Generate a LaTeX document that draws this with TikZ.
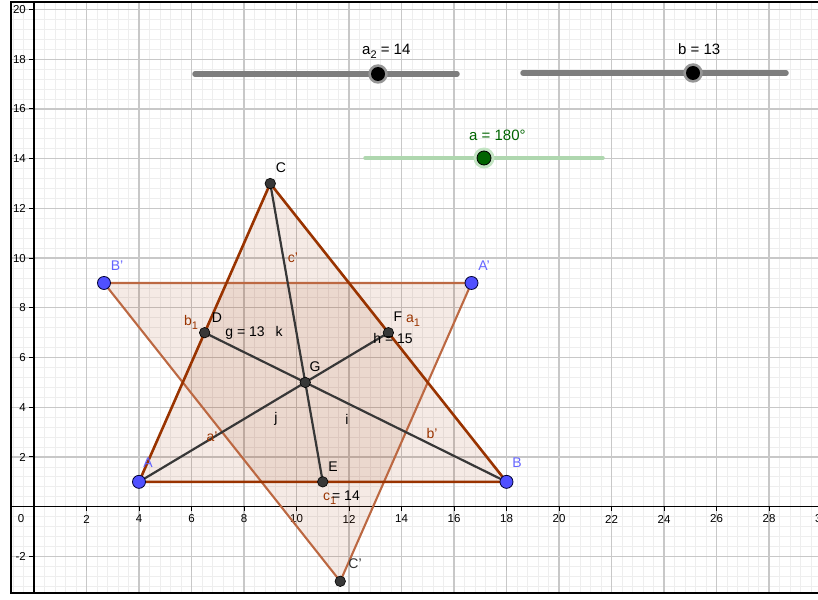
\documentclass[tikz,border=0pt]{standalone}
\usepackage{fontspec}
\setmainfont{Liberation Sans}
\definecolor{ggbrown}{RGB}{153,51,0}
\definecolor{ggbrownlt}{RGB}{188,104,66}
\definecolor{ggblue}{RGB}{80,80,255}
\definecolor{lblblue}{RGB}{100,100,255}
\definecolor{ptdark}{RGB}{55,55,55}
\definecolor{ggreen}{RGB}{0,100,0}
\definecolor{greenlt}{RGB}{175,215,175}
\definecolor{greenhalo}{RGB}{195,228,195}
\definecolor{majgrid}{RGB}{200,200,200}
\definecolor{mingrid}{RGB}{238,238,238}
\definecolor{slidergray}{RGB}{125,125,125}
\definecolor{halogray}{RGB}{150,150,150}
\newcommand\ggsub[1]{\raisebox{-4pt}{\fontsize{11}{12}\selectfont #1}}
\begin{document}
\begin{tikzpicture}[x=1pt,y=-1pt,
  lbl/.style={font=\fontsize{14}{16}\selectfont, inner sep=0pt, text=black},
  slbl/.style={font=\fontsize{15}{17}\selectfont, inner sep=0pt, text=black},
  axlbl/.style={font=\fontsize{11.5}{13}\selectfont, inner sep=0pt, text=black},
  minorline/.style={draw=mingrid, line width=0.8pt},
  majorline/.style={draw=majgrid, line width=1.3pt},
  tri/.style={draw=ggbrown, line width=2.6pt, line join=round},
  trirot/.style={draw=ggbrownlt, line width=2.1pt, line join=round},
  trifill/.style={fill=ggbrown, fill opacity=0.1},
  median/.style={draw=ptdark, line width=2.2pt},
  darkpt/.style={circle, fill=ptdark, draw=black, line width=0.6pt, minimum size=10.5pt, inner sep=0pt},
  bluept/.style={circle, fill=ggblue, draw=black!80!blue, line width=0.8pt, minimum size=13pt, inner sep=0pt},
  sliderline/.style={draw=slidergray, line width=5.5pt, line cap=round},
  knobhalo/.style={circle, fill=halogray, minimum size=19.5pt, inner sep=0pt},
  knob/.style={circle, fill=black, minimum size=14pt, inner sep=0pt},
]
\useasboundingbox (0,0) rectangle (818,599);
\clip (0,0) rectangle (818,599);

\begin{scope}[shift={(34pt,-506.7pt)}, x=26.25pt, y=24.86pt]
  \begin{scope}
    \clip (-0.876,-3.47) rectangle (30,20.3);
    % minor grid
    \foreach \i in {-2,...,75} \draw[minorline] ({\i*0.4},-3.6) -- ({\i*0.4},20.4);
    \foreach \j in {-9,...,51} \draw[minorline] (-1,{\j*0.4}) -- (30,{\j*0.4});
    % major grid
    \foreach \i in {2,4,...,30} \draw[majorline] (\i,-3.6) -- (\i,20.4);
    \foreach \j in {-2,2,4,...,20} \draw[majorline] (-1,\j) -- (30,\j);
    % axes
    \coordinate (xl) at (-0.9,0); \coordinate (xr) at (30,0);
    \coordinate (yb) at (0,-3.5); \coordinate (yt) at (0,20.4);
    \draw[line width=1.3pt] (xl) -- (xr);
    \draw[line width=1.3pt] (yb) -- (yt);
    \foreach \i in {2,4,...,30} {
      \draw[line width=1pt] (\i,0) -- ++(0,-4pt);
      \node[axlbl] at ([yshift=-12.3pt]\i,0) {\i};
    }
    \foreach \j in {-2,2,4,...,20} {
      \draw[line width=1pt] (0,\j) -- ++(-5pt,0);
      \node[axlbl, anchor=east] at ([xshift=-8pt]0,\j) {\j};
    }
    \node[axlbl] at ([xshift=-13pt,yshift=-12.3pt]0,0) {0};

    % geometry
    \coordinate (A) at (4,1);
    \coordinate (B) at (18,1);
    \coordinate (C) at (9,13);
    \coordinate (G) at (10.3333,5);
    \coordinate (A') at (16.6667,9);
    \coordinate (B') at (2.6667,9);
    \coordinate (C') at (11.6667,-3);
    \coordinate (D) at (6.5,7);
    \coordinate (E) at (11,1);
    \coordinate (F) at (13.5,7);

    \fill[trifill] (A) -- (B) -- (C) -- cycle;
    \fill[trifill] (A') -- (B') -- (C') -- cycle;
    \draw[trirot] (A') -- (B') -- (C') -- cycle;
    \draw[median] (A) -- (F);
    \draw[median] (B) -- (D);
    \draw[median] (C) -- (E);
    \draw[tri] (A) -- (B) -- (C) -- cycle;

    \node[darkpt] (pC) at (C) {};
    \node[darkpt] (pD) at (D) {};
    \node[darkpt] (pE) at (E) {};
    \node[darkpt] (pF) at (F) {};
    \node[darkpt] (pG) at (G) {};
    \node[darkpt] (pC') at (C') {};
    \node[bluept] (pA) at (A) {};
    \node[bluept] (pB) at (B) {};
    \node[bluept] (pA') at (A') {};
    \node[bluept] (pB') at (B') {};
  \end{scope}
\end{scope}

% frame
\coordinate (f1) at (11,593);
\coordinate (f2) at (11,1.8);
\coordinate (f3) at (818,1.8);
\coordinate (f4) at (818,593);
\draw[line width=2.4pt] (f3) -- (f2) -- (f1) -- (f4);

% sliders
\coordinate (s1a) at (195,74); \coordinate (s1b) at (457,74);
\draw[sliderline] (s1a) -- (s1b);
\node[knobhalo] (h1) at (378,74) {};
\node[knob] (k1) at (378,74) {};
\node[slbl, anchor=base west] (l1) at (362,55) {a\ggsub{2} = 14};

\coordinate (s2a) at (523,73); \coordinate (s2b) at (786,73);
\draw[sliderline] (s2a) -- (s2b);
\node[knobhalo] (h2) at (693,73) {};
\node[knob] (k2) at (693,73) {};
\node[slbl, anchor=base west] (l2) at (678,55) {b = 13};

\coordinate (s3a) at (365,158); \coordinate (s3b) at (603,158);
\draw[draw=greenlt, line width=3.5pt, line cap=round] (s3a) -- (s3b);
\node[circle, fill=greenhalo, minimum size=21pt, inner sep=0pt] (h3) at (484,158) {};
\node[circle, fill=ggreen, draw=black, line width=0.8pt, minimum size=14pt, inner sep=0pt] (k3) at (484,158) {};
\node[slbl, anchor=base west, text=ggreen] (l3) at (469,140) {a = 180°};

% point labels
\node[lbl] (tC) at (281,168) {C};
\node[lbl, text=ggbrown] (tcp) at (293,258) {c'};
\node[lbl, text=lblblue] (tBp) at (117,266) {B'};
\node[lbl, text=lblblue] (tAp) at (484,266) {A'};
\node[lbl, text=ggbrown, anchor=base west] (tb1) at (184,325) {b\ggsub{1}};
\node[lbl] (tD) at (217,318) {D};
\node[lbl] (tg) at (245,333) {g = 13};
\node[lbl] (tk) at (279,331) {k};
\node[lbl] (tF) at (398,317) {F};
\node[lbl, text=ggbrown, anchor=base west] (ta1) at (406,322) {a\ggsub{1}};
\node[lbl] (th) at (393,338) {h = 15};
\node[lbl] (tG) at (315,367) {G};
\node[lbl] (tj) at (276,419) {j};
\node[lbl] (ti) at (347,419) {i};
\node[lbl, text=ggbrown] (tbp) at (432,433) {b'};
\node[lbl, text=ggbrown] (tap) at (212,437) {a'};
\node[lbl, text=lblblue] (tA) at (148,463) {A};
\node[lbl, text=lblblue] (tB) at (517,463) {B};
\node[lbl] (tE) at (333,467) {E};
\node[lbl, text=ggbrown, anchor=base west] (tc1) at (323,500) {c\ggsub{1}};
\node[lbl] (t14) at (346,496) {= 14};
\node[lbl, text=black!80] (tCp) at (355,564) {C'};
\end{tikzpicture}
\end{document}
